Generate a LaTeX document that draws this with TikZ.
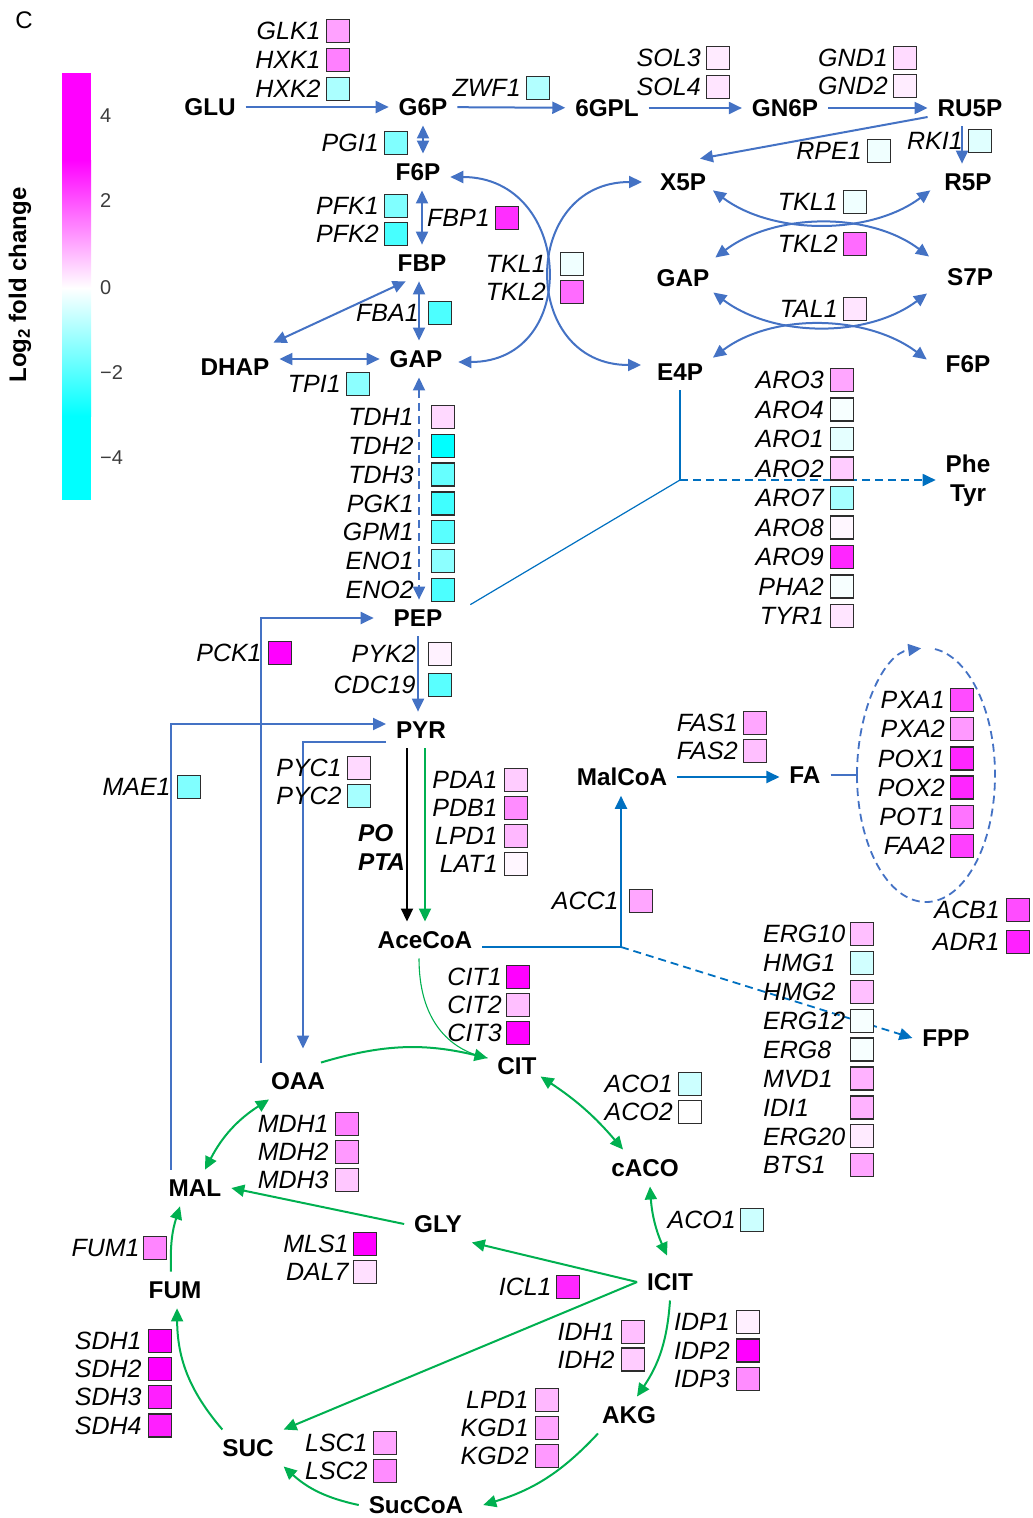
\documentclass[tikz,border=0pt]{standalone}
\usepackage{fontspec}
\setmainfont{Liberation Sans}
\usepackage{tikz}
\usetikzlibrary{arrows.meta, positioning, calc}
\definecolor{pwblue}{RGB}{68,114,196}
\definecolor{acblue}{RGB}{0,112,192}
\definecolor{tcagreen}{RGB}{0,176,80}
\definecolor{sqframe}{RGB}{45,45,45}
\definecolor{fcup}{RGB}{255,0,255}
\definecolor{fcdn}{RGB}{0,255,255}
\definecolor{ticktext}{RGB}{60,60,60}
\tikzset{
  >={Triangle[length=13pt,width=12pt]},
  met/.style={font=\bfseries\fontsize{24.3}{29}\selectfont, inner sep=2pt, outer sep=8pt, text depth=0pt},
  gene/.style={font=\itshape\fontsize{25}{29}\selectfont, inner sep=0pt, text depth=0pt},
  gbox/.style={draw=sqframe, line width=1.3pt, minimum size=23pt, inner sep=0pt},
  barrow/.style={->, line width=2pt, color=pwblue},
  bdarrow/.style={<->, line width=2pt, color=pwblue},
  acarrow/.style={->, line width=2pt, color=acblue},
  garrow/.style={->, line width=2pt, color=tcagreen},
  gdarrow/.style={<->, line width=2pt, color=tcagreen},
  karrow/.style={->, line width=2pt, color=black},
  thinline/.style={line width=1.2pt, color=acblue},
  dasharrow/.style={->, line width=1.8pt, color=acblue, dash pattern=on 8pt off 5pt}
}
\begin{document}
\begin{tikzpicture}[x=1pt, y=-1pt]
  \useasboundingbox (0,0) rectangle (1033,1518);

  % Panel letter and colour key
  \node[font=\fontsize{24}{28}\selectfont] (panel) at (24,20) {C};
  \fill[fcup] (62,73) rectangle (91,160);
  \shade[top color=fcup, bottom color=white] (62,160) rectangle (91,288);
  \shade[top color=white, bottom color=fcdn] (62,288) rectangle (91,416);
  \fill[fcdn] (62,416) rectangle (91,500);
  \foreach \v/\y [count=\i] in {4/116, 2/201, 0/288, −2/373, −4/458}
    \node[font=\fontsize{20}{24}\selectfont, color=ticktext, anchor=west, inner sep=0pt] (tick\i) at (100,\y) {\v};
  \node[rotate=90, font=\bfseries\fontsize{24}{28}\selectfont] (keylabel) at (20,285) {Log\textsubscript{2} fold change};

  % Metabolites
  \node[met] (GLU)    at (210,107)  {GLU};
  \node[met] (G6P)    at (423,107)  {G6P};
  \node[met] (GPL)    at (607,108)  {6GPL};
  \node[met] (GN6P)   at (785,108)  {GN6P};
  \node[met] (RU5P)   at (970,108)  {RU5P};
  \node[met] (F6P)    at (418,172)  {F6P};
  \node[met] (X5P)    at (683,182)  {X5P};
  \node[met] (R5P)    at (968,182)  {R5P};
  \node[met] (FBP)    at (422,263)  {FBP};
  \node[met] (GAPr)   at (683,278)  {GAP};
  \node[met] (S7P)    at (970,277)  {S7P};
  \node[met] (DHAP)   at (235,367)  {DHAP};
  \node[met] (GAP)    at (416,359)  {GAP};
  \node[met] (E4P)    at (680,372)  {E4P};
  \node[met] (F6Pr)   at (968,364)  {F6P};
  \node[met, align=center] (PheTyr) at (968,478) {Phe\\Tyr};
  \node[met] (PEP)    at (418,618)  {PEP};
  \node[met] (PYR)    at (421,730)  {PYR};
  \node[met] (MalCoA) at (622,777)  {MalCoA};
  \node[met] (FA)     at (805,775)  {FA};
  \node[met] (AceCoA) at (425,940)  {AceCoA};
  \node[met] (FPP)    at (946,1038) {FPP};
  \node[met] (CIT)    at (517,1066) {CIT};
  \node[met] (OAA)    at (298,1081) {OAA};
  \node[met] (cACO)   at (645,1168) {cACO};
  \node[met] (MAL)    at (195,1188) {MAL};
  \node[met] (GLY)    at (438,1224) {GLY};
  \node[met] (ICIT)   at (670,1282) {ICIT};
  \node[met] (FUM)    at (175,1290) {FUM};
  \node[met] (AKG)    at (629,1415) {AKG};
  \node[met] (SUC)    at (248,1448) {SUC};
  \node[met] (SucCoA) at (416,1505) {SucCoA};

  % Glycolysis
  \draw[barrow] (GLU) -- (G6P);
  \draw[bdarrow] (G6P.south) -- (G6P.south |- F6P.north);
  \draw[bdarrow] (FBP.north |- F6P.south) -- (FBP.north);
  \draw[bdarrow] ([xshift=-3pt]FBP.south) -- ([xshift=-3pt]FBP.south |- GAP.north);
  \draw[bdarrow] ([xshift=18pt]FBP.south west) -- ([xshift=-6pt,yshift=6pt]DHAP.north east);
  \draw[bdarrow] (DHAP.east |- GAP.west) -- (GAP.west);
  \draw[bdarrow, dash pattern=on 8pt off 5pt] ([xshift=3pt]GAP.south) -- ([xshift=3pt]GAP.south |- PEP.north);
  \draw[barrow] (PEP.south) -- (PEP.south |- PYR.north);

  % Pentose phosphate pathway
  \draw[barrow] (G6P) -- (GPL);
  \draw[barrow] (GPL) -- (GN6P);
  \draw[barrow] (GN6P) -- (RU5P);
  \draw[barrow] ([yshift=-9pt]RU5P.west) -- ([xshift=-16pt,yshift=5pt]X5P.north east);
  \draw[barrow] ([xshift=-8pt]RU5P.south) -- ([xshift=-8pt]RU5P.south |- R5P.north);
  \draw[bdarrow] ([yshift=-5pt]F6P.east) to[out=0, in=0, looseness=1.7] ([xshift=6pt,yshift=-3pt]GAP.east);
  \draw[bdarrow] ([xshift=-8pt]X5P.west) to[out=180, in=180, looseness=1.7] ([xshift=-6pt,yshift=7pt]E4P.west);
  \draw[bdarrow] ([xshift=-3pt,yshift=10pt]X5P.south east) .. controls +(60,45) and +(-60,45) .. ([xshift=-4pt,yshift=10pt]R5P.south west);
  \draw[bdarrow] ([xshift=-4pt,yshift=2pt]GAPr.north east) .. controls +(60,-45) and +(-60,-45) .. ([xshift=-8pt,yshift=2pt]S7P.north west);
  \draw[bdarrow] ([xshift=-6pt,yshift=4pt]GAPr.south east) .. controls +(60,45) and +(-60,45) .. ([xshift=-10pt,yshift=2pt]S7P.south west);
  \draw[bdarrow] ([yshift=-4pt]E4P.north east) .. controls +(60,-45) and +(-60,-45) .. ([xshift=-9pt,yshift=-14pt]F6Pr.north west);

  % Aromatic amino acids
  \coordinate (arojoin) at (680,480);
  \draw[thinline] (E4P.south) -- (arojoin);
  \draw[thinline] ([xshift=18pt,yshift=-5pt]PEP.north east) -- (arojoin);
  \draw[dasharrow] (arojoin) -- (arojoin -| PheTyr.west);

  % Anaplerotic bypasses
  \draw[barrow] (OAA.north west) |- ([xshift=-10pt]PEP.west);
  \draw[barrow] ([xshift=12pt]MAL.north west) |- ([yshift=6pt]PYR.west);
  \draw[barrow] ([yshift=-12pt]PYR.west) -| ([xshift=5pt,yshift=14pt]OAA.north);

  % Pyruvate to acetyl-CoA
  \draw[karrow] ([xshift=-14pt]PYR.south) -- ([xshift=-14pt]PYR.south |- AceCoA.north);
  \draw[garrow] ([xshift=4pt]PYR.south) -- ([xshift=4pt]PYR.south |- AceCoA.north);
  \node[font=\bfseries\itshape\fontsize{24.3}{29}\selectfont, anchor=west, inner sep=0pt, text depth=0pt] (po) at (358,833) {PO};
  \node[font=\bfseries\itshape\fontsize{24.3}{29}\selectfont, anchor=west, inner sep=0pt, text depth=0pt] (pta) at (358,862) {PTA};

  % Fatty acids and sterols
  \coordinate (acjoin) at (621,947);
  \draw[thinline] ([yshift=-7pt]AceCoA.east) -- (acjoin);
  \draw[acarrow] (acjoin) -- (acjoin |- MalCoA.south);
  \draw[dasharrow] (acjoin) -- (FPP.west);
  \draw[acarrow] (MalCoA.east) -- (MalCoA.east -| FA.west);
  \coordinate (pexw) at (857,775);
  \draw[thinline, color=pwblue] (FA.east) -- (pexw);
  \draw[->, pwblue, line width=1.8pt, dash pattern=on 8pt off 5pt] (pexw) arc[start angle=180, end angle=266, x radius=69, y radius=127];
  \draw[pwblue, line width=1.8pt, dash pattern=on 8pt off 5pt] (pexw) arc[start angle=180, end angle=-86, x radius=69, y radius=127];

  % TCA and glyoxylate cycles
  \draw[tcagreen, line width=1.1pt] ([xshift=-6pt]AceCoA.south) .. controls +(0,60) and +(-40,-8) .. ([yshift=8pt]CIT.west);
  \draw[garrow] ([xshift=-14pt]OAA.north east) to[bend left=15] ([yshift=8pt]CIT.west);
  \draw[gdarrow] ([xshift=-6pt,yshift=8pt]CIT.south east) to[bend left=8] ([xshift=-22pt]cACO.north);
  \draw[gdarrow] ([xshift=5pt]cACO.south) to[bend right=10] ([xshift=-3pt,yshift=8pt]ICIT.north);
  \draw[garrow] (ICIT.west) -- (GLY.south east);
  \draw[garrow] (ICIT.west) -- (SUC.north east);
  \draw[garrow] (ICIT.south) to[bend left=15] ([xshift=8pt]AKG.north);
  \draw[garrow] ([xshift=6pt]AKG.south west) to[bend left=15] ([xshift=10pt]SucCoA.east);
  \draw[garrow] (SucCoA.west) to[bend left=15] (SUC.south east);
  \draw[garrow] ([xshift=10pt]SUC.north west) to[bend left=20] ([xshift=2pt]FUM.south);
  \draw[garrow] ([xshift=-4pt]FUM.north) to[bend left=10] ([xshift=-15pt]MAL.south);
  \draw[garrow] (GLY.west) -- (MAL.east);
  \draw[gdarrow] ([xshift=10pt]MAL.north) to[bend left=15] ([xshift=8pt]OAA.south west);

  % Genes, upper part
  \foreach \gn/\col [count=\i] in {GLK1/fcup!37, HXK1/fcup!50, HXK2/fcdn!33} {
    \node[gbox, fill=\col] (hxk\i) at (338, 2+29*\i) {};
    \node[gene, left=5pt of hxk\i] (hxkl\i) {\gn};
  }
  \node[gbox, fill=fcdn!30] (zwf) at (538,88) {};
  \node[gene, left=5pt of zwf] (zwfl) {ZWF1};
  \foreach \gn/\col [count=\i] in {SOL3/fcup!8, SOL4/fcup!10} {
    \node[gbox, fill=\col] (sol\i) at (718, 29+29*\i) {};
    \node[gene, left=5pt of sol\i] (soll\i) {\gn};
  }
  \foreach \gn/\col [count=\i] in {GND1/fcup!14, GND2/fcup!7} {
    \node[gbox, fill=\col] (gnd\i) at (905, 30+28*\i) {};
    \node[gene, left=5pt of gnd\i] (gndl\i) {\gn};
  }
  \node[gbox, fill=fcdn!12] (rki) at (980,141) {};
  \node[gene, left=5pt of rki] (rkil) {RKI1};
  \node[gbox, fill=fcdn!6] (rpe) at (879,151) {};
  \node[gene, left=5pt of rpe] (rpel) {RPE1};
  \node[gbox, fill=fcdn!50] (pgi) at (396,143) {};
  \node[gene, left=5pt of pgi] (pgil) {PGI1};
  \foreach \gn/\col [count=\i] in {PFK1/fcdn!50, PFK2/fcdn!72} {
    \node[gbox, fill=\col] (pfk\i) at (396, 178+28*\i) {};
    \node[gene, left=5pt of pfk\i] (pfkl\i) {\gn};
  }
  \node[gbox, fill=fcup!82] (fbp) at (507,218) {};
  \node[gene, left=5pt of fbp] (fbpl) {FBP1};
  \foreach \gn/\col [count=\i] in {TKL1/fcdn!6, TKL2/fcup!58} {
    \node[gbox, fill=\col] (tkla\i) at (572, 236+28*\i) {};
    \node[gene, left=14pt of tkla\i] (tklal\i) {\gn};
  }
  \foreach \gn/\col/\y [count=\i] in {TKL1/fcdn!6/202, TKL2/fcup!58/244, TAL1/fcup!10/309} {
    \node[gbox, fill=\col] (tklb\i) at (855,\y) {};
    \node[gene, left=5pt of tklb\i] (tklbl\i) {\gn};
  }
  \node[gbox, fill=fcdn!70] (fba) at (440,313) {};
  \node[gene, left=9pt of fba] (fbal) {FBA1};
  \node[gbox, fill=fcdn!45] (tpi) at (358,384) {};
  \node[gene, left=5pt of tpi] (tpil) {TPI1};
  \foreach \gn/\col [count=\i] in {TDH1/fcup!15, TDH2/fcdn!100, TDH3/fcdn!60, PGK1/fcdn!75, GPM1/fcdn!65, ENO1/fcdn!45, ENO2/fcdn!70} {
    \node[gbox, fill=\col] (gly\i) at (443, 388.2+28.8*\i) {};
    \node[gene, left=17pt of gly\i] (glyl\i) {\gn};
  }
  \foreach \gn/\col [count=\i] in {ARO3/fcup!35, ARO4/fcdn!3, ARO1/fcdn!10, ARO2/fcup!20, ARO7/fcdn!35, ARO8/fcup!3, ARO9/fcup!85, PHA2/fcdn!3, TYR1/fcup!10} {
    \node[gbox, fill=\col] (aro\i) at (842, 350.5+29.5*\i) {};
    \node[gene, left=6pt of aro\i] (arol\i) {\gn};
  }

  % Genes, middle part
  \node[gbox, fill=fcup!100] (pck) at (280,653) {};
  \node[gene, left=6pt of pck] (pckl) {PCK1};
  \foreach \gn/\col [count=\i] in {PYK2/fcup!5, CDC19/fcdn!65} {
    \node[gbox, fill=\col] (pyk\i) at (440, 623+31*\i) {};
    \node[gene, left=12pt of pyk\i] (pykl\i) {\gn};
  }
  \node[gbox, fill=fcdn!50] (mae) at (189,787) {};
  \node[gene, left=6pt of mae] (mael) {MAE1};
  \foreach \gn/\col [count=\i] in {PYC1/fcup!15, PYC2/fcdn!35} {
    \node[gbox, fill=\col] (pyc\i) at (359, 740+28*\i) {};
    \node[gene, left=5pt of pyc\i] (pycl\i) {\gn};
  }
  \foreach \gn/\col [count=\i] in {PDA1/fcup!20, PDB1/fcup!45, LPD1/fcup!28, LAT1/fcup!3} {
    \node[gbox, fill=\col] (pdh\i) at (516, 752+28*\i) {};
    \node[gene, left=6pt of pdh\i] (pdhl\i) {\gn};
  }
  \foreach \gn/\col [count=\i] in {FAS1/fcup!35, FAS2/fcup!25} {
    \node[gbox, fill=\col] (fas\i) at (755, 695+28*\i) {};
    \node[gene, left=5pt of fas\i] (fasl\i) {\gn};
  }
  \node[gbox, fill=fcup!35] (acc) at (641,901) {};
  \node[gene, left=10pt of acc] (accl) {ACC1};
  \foreach \gn/\col [count=\i] in {PXA1/fcup!70, PXA2/fcup!40, POX1/fcup!85, POX2/fcup!85, POT1/fcup!55, FAA2/fcup!75} {
    \node[gbox, fill=\col] (pox\i) at (962, 670.8+29.2*\i) {};
    \node[gene, left=5pt of pox\i] (poxl\i) {\gn};
  }
  \foreach \gn/\col [count=\i] in {ACB1/fcup!70, ADR1/fcup!87} {
    \node[gbox, fill=\col] (acb\i) at (1018, 878+32*\i) {};
    \node[gene, left=6pt of acb\i] (acbl\i) {\gn};
  }
  \foreach \gn/\col [count=\i] in {ERG10/fcup!25, HMG1/fcdn!18, HMG2/fcup!25, ERG12/fcdn!3, ERG8/fcdn!3, MVD1/fcup!30, IDI1/fcup!30, ERG20/fcup!8, BTS1/fcup!35} {
    \node[gbox, fill=\col] (erg\i) at (862, 905.1+28.9*\i) {};
    \node[gene, anchor=west] (ergl\i) at (763, 905.1+28.9*\i) {\gn};
  }

  % Genes, lower part
  \foreach \gn/\col [count=\i] in {CIT1/fcup!100, CIT2/fcup!25, CIT3/fcup!100} {
    \node[gbox, fill=\col] (cit\i) at (518, 949+28*\i) {};
    \node[gene, left=4pt of cit\i] (citl\i) {\gn};
  }
  \foreach \gn/\col [count=\i] in {ACO1/fcdn!20, ACO2/white} {
    \node[gbox, fill=\col] (aco\i) at (690, 1056+28*\i) {};
    \node[gene, left=5pt of aco\i] (acol\i) {\gn};
  }
  \foreach \gn/\col [count=\i] in {MDH1/fcup!50, MDH2/fcup!40, MDH3/fcup!22} {
    \node[gbox, fill=\col] (mdh\i) at (347, 1096+28*\i) {};
    \node[gene, left=6pt of mdh\i] (mdhl\i) {\gn};
  }
  \node[gbox, fill=fcdn!20] (acob) at (752,1220) {};
  \node[gene, left=4pt of acob] (acobl) {ACO1};
  \node[gbox, fill=fcup!48] (fum) at (155,1248) {};
  \node[gene, left=3pt of fum] (fuml) {FUM1};
  \foreach \gn/\col [count=\i] in {MLS1/fcup!100, DAL7/fcup!12} {
    \node[gbox, fill=\col] (mls\i) at (365, 1216+28*\i) {};
    \node[gene, left=4pt of mls\i] (mlsl\i) {\gn};
  }
  \node[gbox, fill=fcup!85] (icl) at (568,1287) {};
  \node[gene, left=4pt of icl] (icll) {ICL1};
  \foreach \gn/\col [count=\i] in {IDH1/fcup!25, IDH2/fcup!20} {
    \node[gbox, fill=\col] (idh\i) at (633, 1304.5+27.5*\i) {};
    \node[gene, left=6pt of idh\i] (idhl\i) {\gn};
  }
  \foreach \gn/\col [count=\i] in {IDP1/fcup!6, IDP2/fcup!100, IDP3/fcup!45} {
    \node[gbox, fill=\col] (idp\i) at (748, 1293.5+28.5*\i) {};
    \node[gene, left=6pt of idp\i] (idpl\i) {\gn};
  }
  \foreach \gn/\col [count=\i] in {SDH1/fcup!100, SDH2/fcup!100, SDH3/fcup!88, SDH4/fcup!88} {
    \node[gbox, fill=\col] (sdh\i) at (160, 1312.6+28.2*\i) {};
    \node[gene, left=6pt of sdh\i] (sdhl\i) {\gn};
  }
  \foreach \gn/\col [count=\i] in {LPD1/fcup!28, KGD1/fcup!35, KGD2/fcup!40} {
    \node[gbox, fill=\col] (kgd\i) at (547, 1372+28*\i) {};
    \node[gene, left=6pt of kgd\i] (kgdl\i) {\gn};
  }
  \foreach \gn/\col [count=\i] in {LSC1/fcup!35, LSC2/fcup!45} {
    \node[gbox, fill=\col] (lsc\i) at (385, 1415+28*\i) {};
    \node[gene, left=5pt of lsc\i] (lscl\i) {\gn};
  }
\end{tikzpicture}
\end{document}
